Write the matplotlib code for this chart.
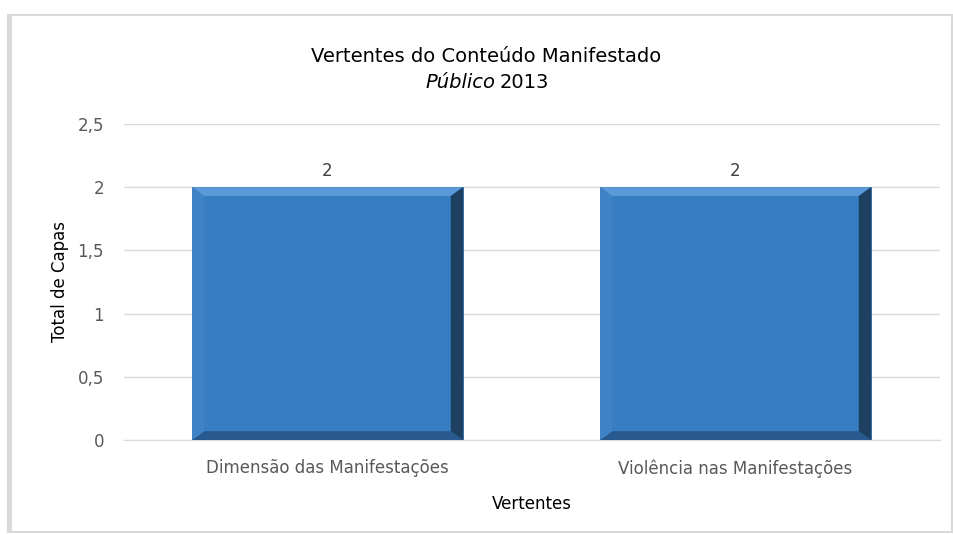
import matplotlib
matplotlib.use("Agg")
import matplotlib.pyplot as plt
from matplotlib.patches import Polygon, Rectangle

categories = ["Dimensão das Manifestações", "Violência nas Manifestações"]
values = [2, 2]
yticks = [0, 0.5, 1, 1.5, 2, 2.5]
ytick_labels = ["0", "0,5", "1", "1,5", "2", "2,5"]

plt.rcParams['font.family'] = ['DejaVu Sans']

fig = plt.figure(figsize=(9.54, 5.34), dpi=100)
# outer frame
fig.patches.append(Rectangle((8/954, 1 - 532/534), 944/954, (532-15)/534, transform=fig.transFigure,
                             facecolor="white", edgecolor="#d9d9d9", linewidth=1.5, zorder=-2))
fig.patches.append(Rectangle((8/954, 1 - 532/534), 4/954, (532-15)/534, transform=fig.transFigure,
                             facecolor="#d9d9d9", edgecolor="none", zorder=-2))

ax = fig.add_axes([123.5/954, 1 - 440/534, (939.5-123.5)/954, (440-124)/534])
ax.set_facecolor("none")
x = list(range(len(categories)))
bars = ax.bar(x, values, width=0.664, color="#377dc1", edgecolor="#2a5f95", linewidth=0.6, zorder=3)

# bevel effect derived from bar geometry
for b in bars:
    x0, y0, w, h = b.get_x(), b.get_y(), b.get_width(), b.get_height()
    dx = w * 0.045
    dy = h * 0.035
    x1, y1 = x0 + w, y0 + h
    top = Polygon([(x0, y1), (x1, y1), (x1 - dx, y1 - dy), (x0 + dx, y1 - dy)], closed=True,
                  facecolor="#5a9ad8", edgecolor="none", zorder=4)
    bot = Polygon([(x0, y0), (x1, y0), (x1 - dx, y0 + dy), (x0 + dx, y0 + dy)], closed=True,
                  facecolor="#28598c", edgecolor="none", zorder=4)
    left = Polygon([(x0, y0), (x0, y1), (x0 + dx, y1 - dy), (x0 + dx, y0 + dy)], closed=True,
                   facecolor="#3f83c6", edgecolor="none", zorder=4)
    right = Polygon([(x1, y0), (x1, y1), (x1 - dx, y1 - dy), (x1 - dx, y0 + dy)], closed=True,
                    facecolor="#1d3f62", edgecolor="none", zorder=4)
    for p in (top, bot, left, right):
        ax.add_patch(p)
    ax.text(x0 + w / 2, y1 + 0.06, f"{int(h)}", ha="center", va="bottom", fontsize=12, color="#404040")

ax.set_xlim(-0.5, len(categories) - 0.5)
ax.set_ylim(0, 2.5)
ax.set_yticks(yticks)
ax.set_yticklabels(ytick_labels)
ax.set_xticks(x)
ax.set_xticklabels(categories)
ax.tick_params(axis="both", length=0, labelsize=12, colors="#595959")
ax.tick_params(axis="x", pad=14)
ax.tick_params(axis="y", pad=14)
ax.grid(axis="y", color="#d9d9d9", linewidth=1, zorder=0)
for s in ["top", "right", "left"]:
    ax.spines[s].set_visible(False)
ax.spines["bottom"].set_color("#d9d9d9")
ax.set_xlabel("Vertentes", fontsize=12, color="black", labelpad=12)
ax.set_ylabel("Total de Capas", fontsize=12, color="black", labelpad=6)

fig.text(486/954, 1 - 57/534, "Vertentes do Conteúdo Manifestado", ha="center", va="center", fontsize=14)
fig.text(495/954, 1 - 83/534, "Público", ha="right", va="center", fontsize=14, style="italic")
fig.text(500/954, 1 - 83/534, "2013", ha="left", va="center", fontsize=14)

fig.savefig("out.png", dpi=100)
